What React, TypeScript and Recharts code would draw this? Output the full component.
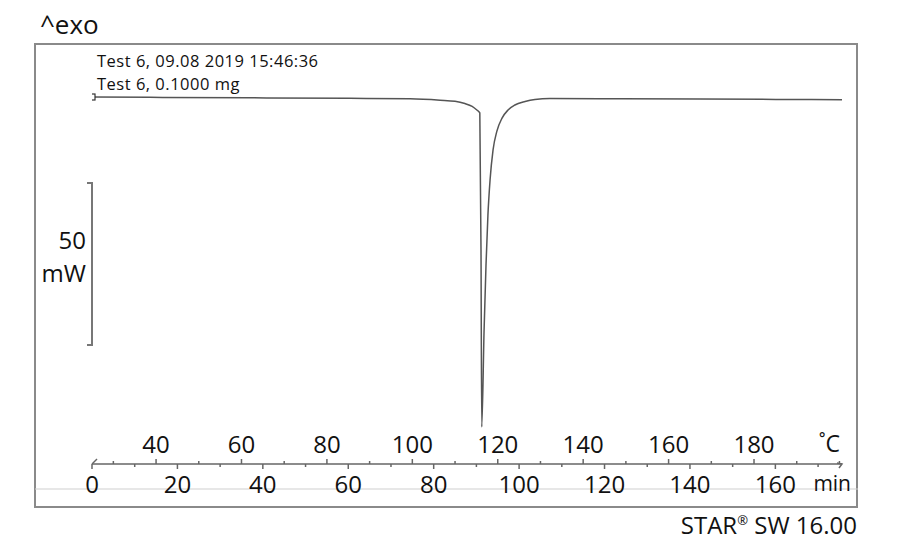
import React from 'react'
import { ComposedChart, Line, XAxis, YAxis } from 'recharts'

// DSC run, heat flow (mW) against time (min); heating at 1 K/min from 25 °C
const timeMin = [
  0, 13.6, 37, 60.4, 74.5, 81.5, 85, 87.3, 89, 90.1, 90.8, 91.08, 91.25, 91.8, 92.25, 92.7,
  93.2, 93.9, 94.8, 96, 97.4, 99, 101.4, 103.7, 107.2, 118.9, 142.4, 161.1, 175.6,
]
const heatFlow = [
  0.62, 0.52, 0.37, 0.22, 0.06, -0.37, -0.7, -1.4, -2.3, -3.4, -4.3, -46.6, -101.2, -71.3, -51.2,
  -35.8, -25, -15.7, -9.9, -5.9, -3.4, -1.85, -0.77, -0.15, 0.15, 0.12, 0, -0.12, -0.22,
]
const timeTicks = [
  0, 5, 10, 15, 20, 25, 30, 35, 40, 45, 50, 55, 60, 65, 70, 75, 80, 85, 90, 95, 100, 105, 110,
  115, 120, 125, 130, 135, 140, 145, 150, 155, 160, 165, 170, 175,
]
const minuteLabels = [0, 20, 40, 60, 80, 100, 120, 140, 160]
const tempLabels = [40, 60, 80, 100, 120, 140, 160, 180]
const TEMP_OFFSET = 25
const X_END = 175.6

const data = timeMin.map((t, i) => ({ t, hf: heatFlow[i] }))

const FONT = "'Open Sans', 'DejaVu Sans', sans-serif"
const AXIS = '#666'

const AxisTick = (props: any) => {
  const { x, y, payload } = props
  const t = payload.value
  if (t >= X_END - 0.01) {
    return (
      <g>
        <path d={`M${x - 5},${y - 1} L${x},${y} L${x - 3},${y + 4}`} stroke={AXIS} strokeWidth={1.5} fill="none" />
        <text x={x - 2} y={y - 12} textAnchor="end" fontSize={23} fontFamily={FONT} fill="#111">
          ˚C
        </text>
        <text x={x + 9} y={y + 27} textAnchor="end" fontSize={21} fontFamily={FONT} fill="#111">
          min
        </text>
      </g>
    )
  }
  const isMinute = t % 10 === 0
  const temp = t + TEMP_OFFSET
  if (isMinute) {
    const major = minuteLabels.includes(t)
    return (
      <g>
        {t === 0 && <path d={`M${x},${y} L${x + 5},${y - 5}`} stroke={AXIS} strokeWidth={1.5} />}
        <line x1={x} y1={y} x2={x} y2={y + (major ? 5 : 3)} stroke={AXIS} strokeWidth={1.5} />
        {major && (
          <text x={x} y={y + 29} textAnchor="middle" fontSize={24} fontFamily={FONT} fill="#111">
            {t}
          </text>
        )}
      </g>
    )
  }
  const major = tempLabels.includes(temp)
  return (
    <g>
      <line x1={x} y1={y} x2={x} y2={y - (major ? 5 : 3)} stroke={AXIS} strokeWidth={1.5} />
      {major && (
        <text x={x} y={y - 11} textAnchor="middle" fontSize={24} fontFamily={FONT} fill="#111">
          {temp}
        </text>
      )}
    </g>
  )
}

const StartDot = (props: any) => {
  const { cx, cy, index } = props
  if (index !== 0) return <g key={`d-${index}`} />
  return <rect key="start" x={cx - 2} y={cy - 3} width={5} height={6} fill="#fff" stroke="#333" strokeWidth={1.2} />
}

export default function App() {
  return (
    <div style={{ position: 'absolute', left: 0, top: 0, width: 900, height: 550, background: '#fff', fontFamily: FONT }}>
      <svg width={900} height={550} style={{ position: 'absolute', left: 0, top: 0 }}>
        <rect x={35} y={44} width={822} height={463} fill="none" stroke="#8a8a8a" strokeWidth={2} />
        <line x1={35} y1={489} x2={858} y2={489} stroke="#cfcfcf" strokeWidth={1} />
        <path d="M87,183 L92,183 L92,345 L87,345" fill="none" stroke="#777" strokeWidth={2} />
        <text x={40} y={34} fontSize={26} fontFamily={FONT} fill="#111">^exo</text>
        <text x={86} y={249} textAnchor="end" fontSize={24} fontFamily={FONT} fill="#111">50</text>
        <text x={86} y={282} textAnchor="end" fontSize={24} fontFamily={FONT} fill="#111">mW</text>
        <text x={97} y={66.5} fontSize={16.5} letterSpacing={0.5} fontFamily={FONT} fill="#111">
          Test 6, 09.08 2019 15:46:36
        </text>
        <text x={97} y={90} fontSize={16.5} letterSpacing={0.5} fontFamily={FONT} fill="#111">
          Test 6, 0.1000 mg
        </text>
        <text x={857} y={534} textAnchor="end" fontSize={24} fontFamily={FONT} fill="#111">
          STAR<tspan fontSize={13} dy={-9}>®</tspan>
          <tspan dy={9}> SW 16.00</tspan>
        </text>
      </svg>
      <div style={{ position: 'absolute', left: 0, top: 0 }}>
        <ComposedChart width={900} height={550} data={data} margin={{ top: 44, right: 58, bottom: 46, left: 92 }}>
          <XAxis
            dataKey="t"
            type="number"
            domain={[0, X_END]}
            ticks={[...timeTicks, X_END]}
            interval={0}
            tick={<AxisTick />}
            tickLine={false}
            tickSize={0}
            tickMargin={0}
            axisLine={{ stroke: AXIS, strokeWidth: 1.5 }}
            height={40}
            allowDataOverflow
          />
          <YAxis hide type="number" domain={[-112.65, 16.98]} allowDataOverflow />
          <Line
            type="monotone"
            dataKey="hf"
            stroke="#555"
            strokeWidth={1.5}
            dot={<StartDot />}
            activeDot={false}
            isAnimationActive={false}
          />
        </ComposedChart>
      </div>
    </div>
  )
}
